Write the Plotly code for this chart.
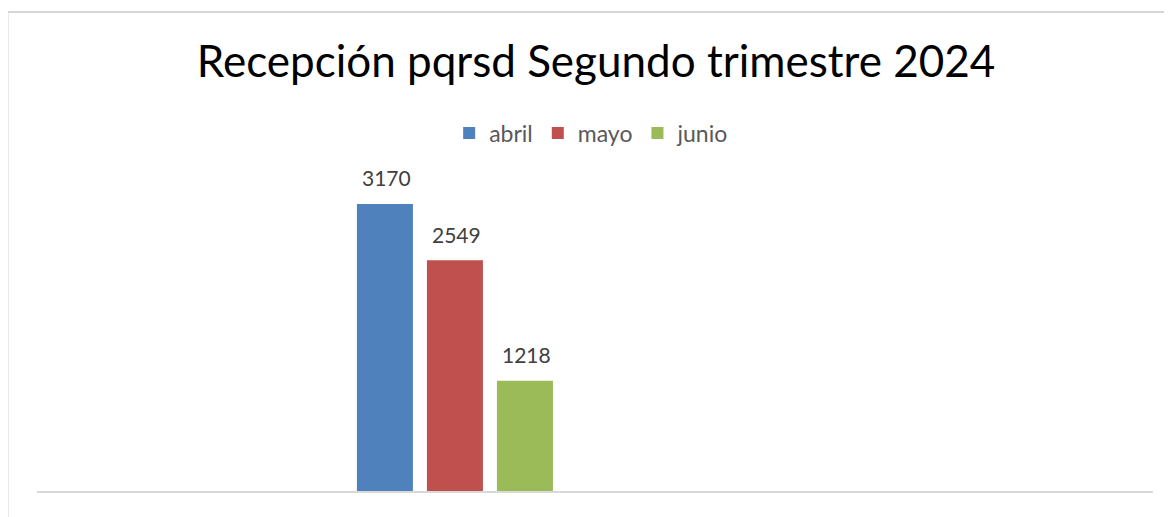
import plotly.graph_objects as go

# Datos
categoria = ['pqrsd']
meses = ['abril', 'mayo', 'junio']
valores = [3170, 2549, 1218]
colores = ['#4F81BD', '#C0504D', '#9BBB59']

fig = go.Figure()
for mes, valor, color in zip(meses, valores, colores):
    fig.add_trace(go.Bar(x=categoria, y=[valor], name=mes, marker_color=color,
                         marker_line_width=0, hoverinfo='skip'))

# Etiquetas de datos encima de cada barra
for i, (mes, valor) in enumerate(zip(meses, valores)):
    fig.add_annotation(x=categoria[0], y=valor, text=str(valor), showarrow=False,
                       xshift=(i - 1) * 70 + 2, yshift=26,
                       font=dict(family='Lato', size=21, color='#404040'))

# la página tiene 8px de margen en el body, se compensa en los márgenes
fig.update_layout(
    width=1172, height=517,
    margin=dict(l=29, r=27, t=166, b=34),
    paper_bgcolor='white', plot_bgcolor='white',
    barmode='group', bargap=0, bargroupgap=0.2,
    title=dict(text='Recepción pqrsd Segundo trimestre 2024', x=(596 - 8) / 1172, xanchor='center',
               y=1 - 54 / 517, yanchor='middle',
               font=dict(family='Lato', size=44, color='black')),
    legend=dict(orientation='h', x=0.497, xanchor='center', y=1.129, yanchor='middle',
                font=dict(family='Lato', size=23, color='#595959'), itemwidth=30,
                traceorder='normal'),
    xaxis=dict(range=[-1.990, 3.324], showticklabels=False, ticks='', showgrid=False,
               showline=True, linecolor='#D9D9D9', linewidth=2, zeroline=False),
    yaxis=dict(range=[0, 3500], visible=False, showgrid=False, zeroline=False),
    showlegend=True,
)

# Borde del área del gráfico
fig.add_shape(type='rect', xref='paper', yref='paper',
              x0=-29.5 / 1116, x1=1.1, y0=-0.3, y1=(491 - 12) / 317,
              line=dict(color='#D6D6D6', width=2), layer='above')

fig.write_html("out.html")
